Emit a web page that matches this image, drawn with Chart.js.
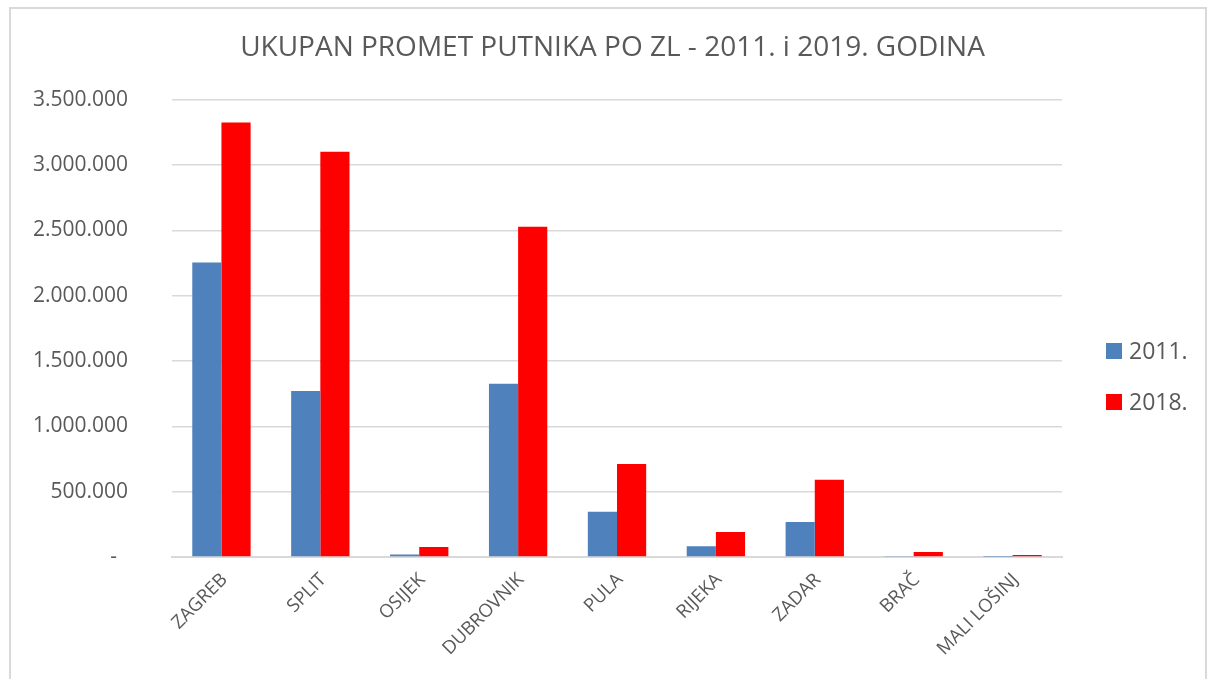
<!DOCTYPE html>
<html>
<head>
<meta charset="utf-8">
<script src="https://cdn.jsdelivr.net/npm/chart.js@4/dist/chart.umd.min.js"></script>
<style>
  html, body { margin: 0; padding: 0; background: #fff; }
  #wrap { position: absolute; left: 0; top: 0; width: 1215px; height: 679px; }
  #frame { position: absolute; left: 9px; top: 7px; width: 1194px; height: 700px; border: 2px solid #d9d9d9; pointer-events: none; }
</style>
</head>
<body>
<div id="wrap"><canvas id="c" width="1215" height="679"></canvas></div>
<div id="frame"></div>
<script>
const titleText = 'UKUPAN PROMET PUTNIKA PO ZL - 2011. i 2019. GODINA';
const categories = ['ZAGREB', 'SPLIT', 'OSIJEK', 'DUBROVNIK', 'PULA', 'RIJEKA', 'ZADAR', 'BRAČ', 'MALI LOŠINJ'];
const seriesNames = ['2011.', '2018.'];
const values2011 = [2253000, 1271000, 20000, 1325000, 347000, 82000, 268000, 7000, 1000];
const values2018 = [3325000, 3101000, 77000, 2527000, 712000, 191000, 592000, 38000, 15000];
const yMin = 0, yMax = 3500000, yStep = 500000;
const colors = ['#4F81BD', '#FF0000'];
const textColor = '#595959';
const FONT = "'Open Sans', 'Liberation Sans', sans-serif";

function fmt(v) {
  if (v === 0) return '-  ';
  return String(Math.round(v)).replace(/\B(?=(\d{3})+(?!\d))/g, '.');
}

const legendPlugin = {
  id: 'sideLegend',
  afterDraw(chart) {
    const ctx = chart.ctx;
    ctx.save();
    const x = 1106, ys = [351, 402];
    chart.data.datasets.forEach((ds, i) => {
      ctx.fillStyle = ds.backgroundColor;
      ctx.fillRect(x, ys[i] - 8, 16, 16);
      ctx.fillStyle = textColor;
      ctx.font = "23px " + FONT;
      ctx.textBaseline = 'middle';
      ctx.textAlign = 'left';
      ctx.fillText(ds.label, x + 23, ys[i] + 1);
    });
    ctx.restore();
  }
};

new Chart(document.getElementById('c'), {
  type: 'bar',
  data: {
    labels: categories,
    datasets: [
      { label: seriesNames[0], data: values2011, backgroundColor: colors[0] },
      { label: seriesNames[1], data: values2018, backgroundColor: colors[1] }
    ]
  },
  options: {
    responsive: false,
    animation: false,
    devicePixelRatio: 1,
    layout: { padding: { left: 10, right: 0, top: 0, bottom: 0 } },
    datasets: { bar: { categoryPercentage: 0.59, barPercentage: 1.0 } },
    plugins: {
      legend: { display: false },
      tooltip: { enabled: false },
      title: {
        display: true,
        text: titleText,
        color: textColor,
        font: { family: FONT, size: 28, weight: 'normal' },
        padding: { top: 31, bottom: 35 }
      }
    },
    scales: {
      x: {
        grid: { display: false, drawTicks: false },
        border: { display: true, color: '#d9d9d9', width: 2 },
        ticks: {
          color: textColor,
          font: { family: FONT, size: 18.5 },
          minRotation: 45, maxRotation: 45,
          autoSkip: false,
          padding: 12,
          labelOffset: 3
        },
        afterFit(s) { s.height = 122; }
      },
      y: {
        min: yMin, max: yMax,
        grid: { color: '#d9d9d9', lineWidth: 1.5, drawTicks: false },
        border: { display: false },
        ticks: {
          stepSize: yStep,
          color: textColor,
          font: { family: FONT, size: 21 },
          padding: 44,
          callback: v => fmt(v)
        },
        afterFit(s) { s.width = 162; }
      },
      yRight: {
        position: 'right',
        min: yMin, max: yMax,
        grid: { display: false, drawTicks: false },
        border: { display: false },
        ticks: { display: false },
        afterFit(s) { s.width = 153; }
      }
    }
  },
  plugins: [legendPlugin]
});
</script>
</body>
</html>
